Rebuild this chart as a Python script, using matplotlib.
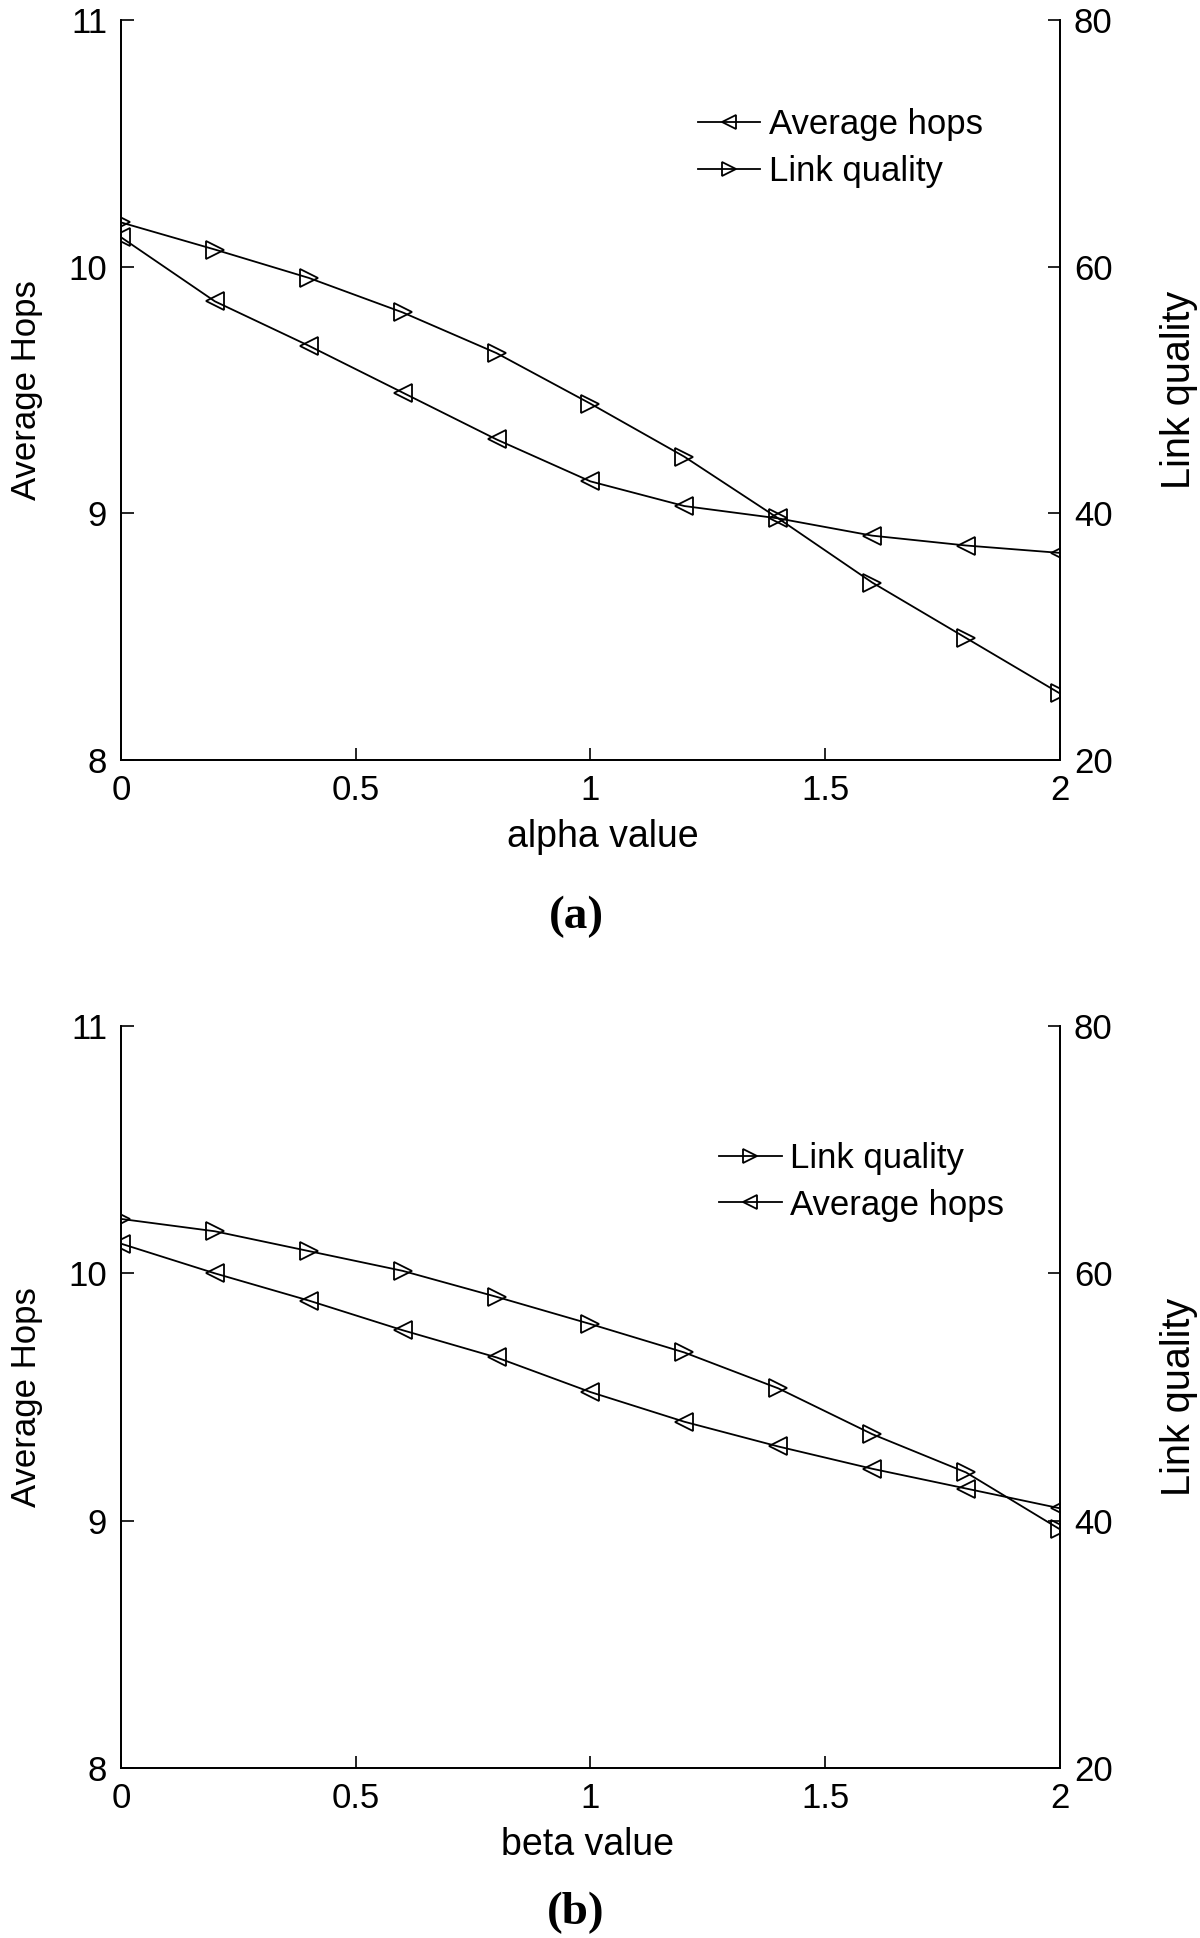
import matplotlib
matplotlib.use("Agg")
import matplotlib.pyplot as plt
from matplotlib.ticker import FuncFormatter

plt.rcParams['font.family'] = ['Liberation Sans', 'DejaVu Sans']

x_vals = [0, 0.2, 0.4, 0.6, 0.8, 1.0, 1.2, 1.4, 1.6, 1.8, 2.0]

# Panel (a): alpha
hops_a = [10.12, 9.86, 9.68, 9.49, 9.30, 9.13, 9.03, 8.98, 8.91, 8.87, 8.84]
link_a = [63.6, 61.4, 59.1, 56.3, 53.0, 48.9, 44.6, 39.6, 34.4, 29.9, 25.4]

# Panel (b): beta
hops_b = [10.12, 10.00, 9.89, 9.77, 9.66, 9.52, 9.40, 9.30, 9.21, 9.13, 9.05]
link_b = [64.4, 63.4, 61.8, 60.2, 58.1, 55.9, 53.6, 50.7, 47.0, 43.9, 39.3]

x_ticks = [0, 0.5, 1, 1.5, 2]
left_ticks = [8, 9, 10, 11]
right_ticks = [20, 40, 60, 80]

TICK_FS = 25
LAB_FS = 27
fmt = FuncFormatter(lambda v, p: "%g" % v)

fig = plt.figure(figsize=(12, 19.38), dpi=100)

def panel(rect, hops, link, xlabel, xlab_x, tag, tag_y, legend_order, leg_anchor):
    ax = fig.add_axes(rect)
    ax2 = ax.twinx()
    lh, = ax.plot(x_vals, hops, color='black', lw=1.3, marker='<', ms=13,
                  mfc='none', mec='black', mew=1.3, label='Average hops')
    ll, = ax2.plot(x_vals, link, color='black', lw=1.3, marker='>', ms=13,
                   mfc='none', mec='black', mew=1.3, label='Link quality')
    ax.set_xlim(0, 2)
    ax.set_ylim(8, 11)
    ax2.set_ylim(20, 80)
    ax.set_xticks(x_ticks)
    ax.set_yticks(left_ticks)
    ax2.set_yticks(right_ticks)
    ax.xaxis.set_major_formatter(fmt)
    ax.yaxis.set_major_formatter(fmt)
    ax2.yaxis.set_major_formatter(fmt)
    for a in (ax, ax2):
        a.spines['top'].set_visible(False)
        for s in a.spines.values():
            s.set_linewidth(1.3)
        a.tick_params(direction='in', length=9, width=1.2, labelsize=TICK_FS, pad=10)
    ax.tick_params(axis='y', right=False)
    ax.set_xlabel(xlabel, fontsize=LAB_FS, labelpad=8)
    ax.xaxis.set_label_coords(xlab_x, -0.079)
    ax.set_ylabel('Average Hops', fontsize=25, labelpad=18)
    ax2.set_ylabel('Link quality', fontsize=28.5, labelpad=34)
    handles = {'hops': lh, 'link': ll}
    hs = [handles[k] for k in legend_order]
    ax2.legend(hs, [h.get_label() for h in hs], loc='upper left',
               bbox_to_anchor=leg_anchor, frameon=False, fontsize=25,
               handlelength=1.8, handletextpad=0.25, labelspacing=0.4,
               borderaxespad=0, borderpad=0, markerscale=0.75)
    fig.text(0.48, tag_y, tag, ha='center', va='center', fontsize=34,
             fontweight='bold', family=['Liberation Serif', 'DejaVu Serif'])
    return ax

panel([0.1008, 0.6078, 0.7825, 0.3818], hops_a, link_a, 'alpha value', 0.513, '(a)',
      1 - 917 / 1938, ['hops', 'link'], (0.614, 0.881))
panel([0.1008, 0.0877, 0.7825, 0.3829], hops_b, link_b, 'beta value', 0.497, '(b)',
      1 - 1913 / 1938, ['link', 'hops'], (0.637, 0.844))

fig.savefig('out.png', dpi=100, facecolor='white')
